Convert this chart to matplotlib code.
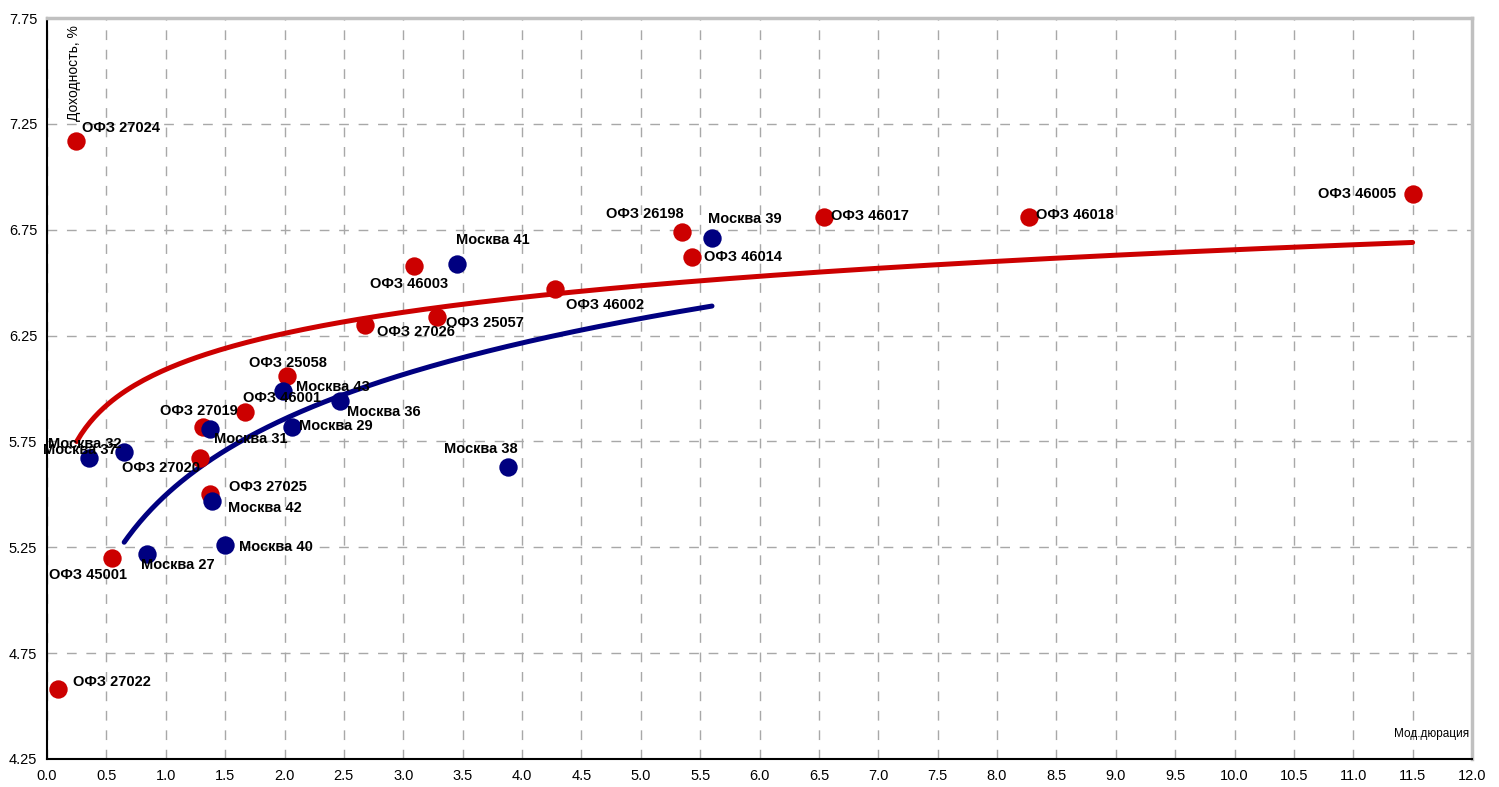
import numpy as np
import matplotlib
matplotlib.use("Agg")
import matplotlib.pyplot as plt

plt.rcParams["font.family"] = ["Liberation Sans", "DejaVu Sans"]

# ОФЗ (red)
ofz_names = ["ОФЗ 27024", "ОФЗ 27022", "ОФЗ 45001", "ОФЗ 27020", "ОФЗ 27025",
             "ОФЗ 27019", "ОФЗ 46001", "ОФЗ 25058", "ОФЗ 27026", "ОФЗ 25057",
             "ОФЗ 46003", "ОФЗ 46002", "ОФЗ 26198", "ОФЗ 46014", "ОФЗ 46017",
             "ОФЗ 46018", "ОФЗ 46005"]
ofz_dur = [0.24, 0.09, 0.55, 1.29, 1.37, 1.31, 1.67, 2.02, 2.68, 3.28,
           3.09, 4.28, 5.35, 5.43, 6.54, 8.27, 11.50]
ofz_yld = [7.17, 4.58, 5.20, 5.67, 5.50, 5.82, 5.89, 6.06, 6.30, 6.34,
           6.58, 6.47, 6.74, 6.62, 6.81, 6.81, 6.92]

# Москва (blue)
msk_names = ["Москва 37", "Москва 32", "Москва 27", "Москва 31", "Москва 42",
             "Москва 40", "Москва 43", "Москва 29", "Москва 36", "Москва 41",
             "Москва 38", "Москва 39"]
msk_dur = [0.35, 0.65, 0.84, 1.37, 1.39, 1.50, 1.99, 2.06, 2.47, 3.45, 3.88, 5.60]
msk_yld = [5.67, 5.70, 5.22, 5.81, 5.47, 5.26, 5.99, 5.82, 5.94, 6.59, 5.63, 6.71]

# logarithmic trend lines: y = a + b*ln(x), over [x0, x1]
ofz_trend = (6.090, 0.2456, 0.25, 11.5)
msk_trend = (5.497, 0.518, 0.65, 5.6)

# label offsets in pixels (dx, dy, ha, va)
ofz_off = [(7, 13, "left", "center"), (15, 7, "left", "center"),
           (-24, -17, "center", "center"), (0, -10, "right", "center"),
           (19, 7, "left", "center"), (-4, 16, "center", "center"),
           (-2, 14, "left", "center"), (1, 13, "center", "center"),
           (12, -7, "left", "center"), (10, -6, "left", "center"),
           (-5, -18, "center", "center"), (11, -16, "left", "center"),
           (1, 18, "right", "center"), (12, 0, "left", "center"),
           (7, 1, "left", "center"), (7, 2, "left", "center"),
           (-16, 0, "right", "center")]
msk_off = [(-9, 8, "center", "center"), (-3, 8, "right", "center"),
           (-6, -11, "left", "center"), (4, -10, "left", "center"),
           (16, -7, "left", "center"), (14, -2, "left", "center"),
           (13, 4, "left", "center"), (7, 1, "left", "center"),
           (7, -11, "left", "center"), (-1, 24, "left", "center"),
           (-27, 18, "center", "center"), (-4, 19, "left", "center")]

red = "#cc0000"
blue = "#000080"

fig = plt.figure(figsize=(14.99, 7.87), dpi=100)
ax = fig.add_axes([47 / 1499, 1 - 759 / 787, (1472 - 47) / 1499, (759 - 18) / 787])

ax.set_xlim(0, 12)
ax.set_ylim(4.25, 7.75)
ax.set_xticks(np.arange(0, 12.01, 0.5))
ax.set_yticks(np.arange(4.25, 7.76, 0.5))
ax.xaxis.set_major_formatter(matplotlib.ticker.FormatStrFormatter("%.1f"))
ax.yaxis.set_major_formatter(matplotlib.ticker.FormatStrFormatter("%.2f"))
ax.tick_params(length=0, labelsize=10.5, pad=7)
ax.grid(True, color="#a8a8a8", linestyle=(0, (7, 7)), linewidth=1)
ax.set_axisbelow(True)

for s in ["left", "bottom"]:
    ax.spines[s].set_color("black")
    ax.spines[s].set_linewidth(1.5)
for s in ["top", "right"]:
    ax.spines[s].set_color("#c0c0c0")
    ax.spines[s].set_linewidth(2.5)

for (a, b, x0, x1), col in [(ofz_trend, red), (msk_trend, blue)]:
    xs = np.linspace(x0, x1, 300)
    ax.plot(xs, a + b * np.log(xs), color=col, lw=3.6, solid_capstyle="round", zorder=3)

ax.scatter(ofz_dur, ofz_yld, s=175, color=red, zorder=4, linewidths=0)
ax.scatter(msk_dur, msk_yld, s=175, color=blue, zorder=4, linewidths=0)

for names, xs, ys, offs in [(ofz_names, ofz_dur, ofz_yld, ofz_off),
                            (msk_names, msk_dur, msk_yld, msk_off)]:
    for n, x, y, (dx, dy, ha, va) in zip(names, xs, ys, offs):
        ax.annotate(n, (x, y), xytext=(dx, dy), textcoords="offset pixels",
                    ha=ha, va=va, fontsize=10.5, fontweight="bold", zorder=5)

ax.text(0.014, 0.99, "Доходность, %", rotation=90, transform=ax.transAxes,
        ha="left", va="top", fontsize=10)
ax.text(0.998, 0.025, "Мод.дюрация", transform=ax.transAxes,
        ha="right", va="bottom", fontsize=8.5)

fig.savefig("out.png", dpi=100)
